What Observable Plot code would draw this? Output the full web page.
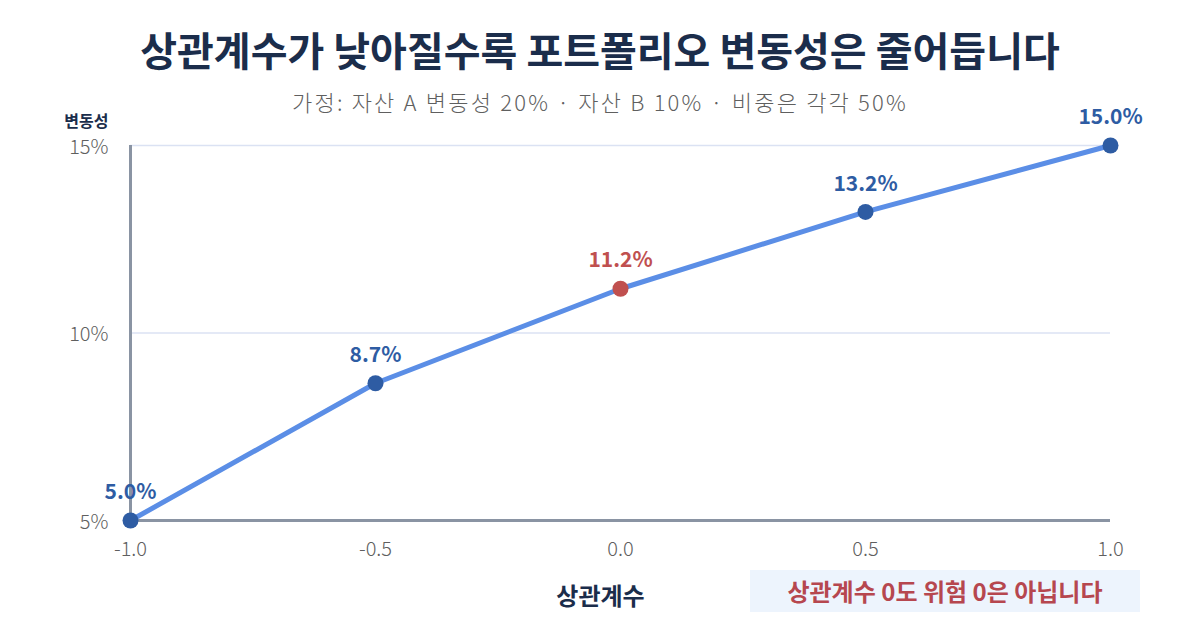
<!DOCTYPE html>
<html><head><meta charset="utf-8">
<script src="https://cdn.jsdelivr.net/npm/d3@7"></script>
<script src="https://cdn.jsdelivr.net/npm/@observablehq/plot@0.6"></script>
<style>
body{margin:0;background:#fff;font-family:"Noto Sans CJK KR","Noto Sans",sans-serif;}
#wrap{position:relative;width:1200px;height:630px;overflow:hidden;}
#title{position:absolute;left:0;top:20px;width:1200px;text-align:center;font-size:40px;font-weight:700;color:#1b2d4b;line-height:58px;}
#sub{position:absolute;left:0;top:85px;width:1200px;text-align:center;font-size:22px;font-weight:300;letter-spacing:2.2px;color:#5f5f5f;line-height:32px;}
#chart{position:absolute;left:0;top:115px;}
#note{position:absolute;left:750px;top:570px;width:390px;height:42px;background:#edf4fd;color:#b6474f;font-weight:700;font-size:24px;line-height:42px;text-align:center;}
</style></head>
<body><div id="wrap">
<div id="title">상관계수가 낮아질수록 포트폴리오 변동성은 줄어듭니다</div>
<div id="sub">가정: 자산 A 변동성 20% · 자산 B 10% · 비중은 각각 50%</div>
<div id="chart"></div>
<div id="note">상관계수 0도 위험 0은 아닙니다</div>
</div>
<script>
const corr = [-1, -0.5, 0, 0.5, 1];
const vol = [5.0, 8.66, 11.18, 13.23, 15.0];
const pointLabels = ["5.0%", "8.7%", "11.2%", "13.2%", "15.0%"];
const highlight = [false, false, true, false, false];
const xTicks = [-1, -0.5, 0, 0.5, 1];
const yTicks = [5, 10, 15];
const gridTicks = [10, 15];

const data = corr.map((c, i) => ({c, v: vol[i], label: pointLabels[i], hi: highlight[i]}));
const blue = "#2e5ca3", red = "#c0504f";

const chart = Plot.plot({
  width: 1200, height: 515,
  marginTop: 30, marginBottom: 110, marginLeft: 130, marginRight: 90,
  style: {fontFamily: "'Noto Sans CJK KR', 'Noto Sans', sans-serif", fontSize: "20px", fontWeight: 300, color: "#5f5f5f", background: "transparent", overflow: "visible"},
  color: {type: "identity"},
  x: {domain: [-1, 1], ticks: xTicks, tickFormat: d => d.toFixed(1), tickSize: 0, tickPadding: 21, label: null},
  y: {domain: [5, 15], label: null},
  marks: [
    Plot.ruleY(gridTicks, {stroke: "#dbe2f3", strokeWidth: 1.5}),
    Plot.ruleX([-1], {stroke: "#8a94a3", strokeWidth: 3}),
    Plot.ruleY([5], {stroke: "#8a94a3", strokeWidth: 3}),
    Plot.axisY({ticks: yTicks, tickFormat: d => d + "%", tickSize: 0, tickPadding: 22, dy: 2, label: null}),
    Plot.line(data, {x: "c", y: "v", stroke: "#5b8ee6", strokeWidth: 5}),
    Plot.dot(data, {x: "c", y: "v", r: 8, fill: d => d.hi ? red : blue}),
    Plot.text(data, {x: "c", y: "v", text: "label", dy: -28, fill: d => d.hi ? red : blue, fontWeight: "bold", fontSize: 21}),
    Plot.text(["변동성"], {frameAnchor: "top-left", textAnchor: "end", text: d => d, dx: -22, dy: -30, fill: "#1b2d4b", fontWeight: "bold", fontSize: 16}),
    Plot.text(["상관계수"], {frameAnchor: "bottom", text: d => d, dx: -20, dy: 84, fill: "#1b2d4b", fontWeight: "bold", fontSize: 24})
  ]
});
document.getElementById("chart").appendChild(chart);
</script>
</body></html>
